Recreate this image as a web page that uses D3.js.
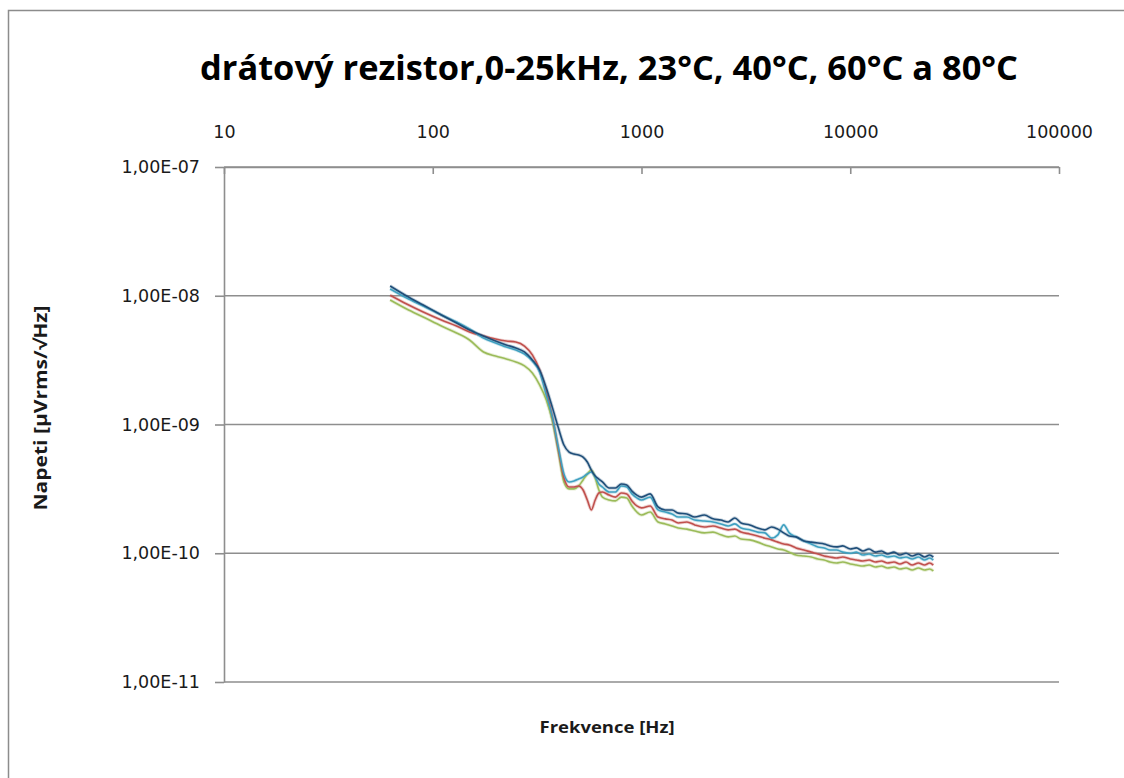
<!DOCTYPE html>
<html>
<head>
<meta charset="utf-8">
<script src="https://cdn.jsdelivr.net/npm/d3@7"></script>
<style>
  html, body { margin: 0; padding: 0; background: #fff; overflow: hidden; }
  svg { display: block; }
</style>
</head>
<body>
<svg id="chart" width="1124" height="778"></svg>
<script>
// Noise spectral density of a wire-wound resistor at four temperatures
const titleText = "drátový rezistor,0-25kHz, 23°C, 40°C, 60°C a 80°C";
const xTitle = "Frekvence [Hz]";
const yTitle = "Napeti [μVrms/√Hz]";

const xTicks = [10, 100, 1000, 10000, 100000];
const yTicks = [1e-7, 1e-8, 1e-9, 1e-10, 1e-11];

const freqHz = [62.5, 75, 90, 110, 130, 150, 175, 200, 225, 250,
  275, 300, 325, 350, 375, 400, 425, 450, 475, 500,
  525, 550, 575, 600, 625, 650, 700, 750, 800, 850,
  900, 950, 1000, 1100, 1200, 1300, 1400, 1500, 1650, 1800,
  2000, 2200, 2400, 2600, 2800, 3000, 3300, 3600, 3900, 4200,
  4500, 4800, 5100, 5500, 6000, 6500, 7000, 7500, 8000, 8600,
  9200, 10000, 10700, 11500, 12300, 13200, 14100, 15100, 16200, 17300,
  18500, 19800, 21200, 22700, 24000, 25000];

const seriesNames = ["23°C", "40°C", "60°C", "80°C"];

const noise23 = [9.27e-9, 7.89e-9, 6.84e-9, 5.82e-9, 5.14e-9, 4.53e-9, 3.66e-9, 3.40e-9, 3.23e-9, 3.06e-9,
  2.85e-9, 2.51e-9, 2.03e-9, 1.55e-9, 1.05e-9, 6.11e-10, 3.58e-10, 3.16e-10, 3.16e-10, 3.33e-10,
  3.71e-10, 4.13e-10, 4.43e-10, 3.84e-10, 3.10e-10, 2.73e-10, 2.59e-10, 2.55e-10, 2.73e-10, 2.69e-10,
  2.33e-10, 2.09e-10, 1.98e-10, 2.09e-10, 1.75e-10, 1.69e-10, 1.63e-10, 1.57e-10, 1.54e-10, 1.49e-10,
  1.44e-10, 1.46e-10, 1.39e-10, 1.34e-10, 1.36e-10, 1.29e-10, 1.27e-10, 1.22e-10, 1.16e-10, 1.12e-10,
  1.08e-10, 1.06e-10, 1.02e-10, 9.69e-11, 9.52e-11, 9.35e-11, 9.02e-11, 8.86e-11, 8.55e-11, 8.40e-11,
  8.55e-11, 8.25e-11, 8.10e-11, 7.96e-11, 8.10e-11, 7.82e-11, 7.96e-11, 7.68e-11, 7.82e-11, 7.54e-11,
  7.68e-11, 7.41e-11, 7.68e-11, 7.41e-11, 7.54e-11, 7.28e-11];

const noise40 = [1.01e-8, 8.63e-9, 7.48e-9, 6.48e-9, 5.82e-9, 5.23e-9, 4.87e-9, 4.61e-9, 4.45e-9, 4.37e-9,
  4.07e-9, 3.47e-9, 2.65e-9, 1.79e-9, 1.12e-9, 6.34e-10, 3.84e-10, 3.27e-10, 3.27e-10, 3.33e-10,
  3.10e-10, 2.59e-10, 2.17e-10, 2.59e-10, 2.94e-10, 2.99e-10, 2.83e-10, 2.73e-10, 2.94e-10, 2.89e-10,
  2.55e-10, 2.33e-10, 2.25e-10, 2.33e-10, 1.91e-10, 1.85e-10, 1.81e-10, 1.72e-10, 1.75e-10, 1.66e-10,
  1.60e-10, 1.63e-10, 1.57e-10, 1.52e-10, 1.54e-10, 1.46e-10, 1.41e-10, 1.36e-10, 1.31e-10, 1.27e-10,
  1.22e-10, 1.18e-10, 1.16e-10, 1.10e-10, 1.06e-10, 1.02e-10, 9.87e-11, 9.52e-11, 9.35e-11, 9.19e-11,
  9.35e-11, 9.02e-11, 8.86e-11, 8.71e-11, 8.86e-11, 8.55e-11, 8.71e-11, 8.40e-11, 8.55e-11, 8.25e-11,
  8.55e-11, 8.10e-11, 8.40e-11, 8.10e-11, 8.40e-11, 8.10e-11];

const noise60 = [1.13e-8, 9.60e-9, 8.33e-9, 7.09e-9, 6.25e-9, 5.52e-9, 4.70e-9, 4.30e-9, 4.00e-9, 3.79e-9,
  3.53e-9, 3.11e-9, 2.56e-9, 1.69e-9, 1.12e-9, 6.57e-10, 4.13e-10, 3.58e-10, 3.64e-10, 3.77e-10,
  3.91e-10, 4.13e-10, 4.28e-10, 3.91e-10, 3.45e-10, 3.27e-10, 2.99e-10, 2.99e-10, 3.33e-10, 3.27e-10,
  2.89e-10, 2.69e-10, 2.59e-10, 2.73e-10, 2.17e-10, 2.09e-10, 2.02e-10, 1.91e-10, 1.91e-10, 1.81e-10,
  1.78e-10, 1.75e-10, 1.69e-10, 1.63e-10, 1.69e-10, 1.57e-10, 1.52e-10, 1.46e-10, 1.44e-10, 1.31e-10,
  1.39e-10, 1.66e-10, 1.44e-10, 1.34e-10, 1.245e-10, 1.18e-10, 1.12e-10, 1.10e-10, 1.06e-10, 1.06e-10,
  1.02e-10, 1.00e-10, 1.02e-10, 9.69e-11, 9.87e-11, 9.52e-11, 9.69e-11, 9.35e-11, 9.52e-11, 9.19e-11,
  9.35e-11, 9.02e-11, 9.35e-11, 8.86e-11, 9.19e-11, 8.86e-11];

const noise80 = [1.19e-8, 9.95e-9, 8.48e-9, 7.09e-9, 6.14e-9, 5.42e-9, 4.87e-9, 4.45e-9, 4.15e-9, 3.93e-9,
  3.66e-9, 3.17e-9, 2.65e-9, 1.92e-9, 1.34e-9, 9.39e-10, 6.93e-10, 6.11e-10, 5.90e-10, 5.80e-10,
  5.59e-10, 5.11e-10, 4.43e-10, 3.98e-10, 3.77e-10, 3.58e-10, 3.21e-10, 3.21e-10, 3.45e-10, 3.39e-10,
  3.04e-10, 2.83e-10, 2.73e-10, 2.89e-10, 2.29e-10, 2.17e-10, 2.17e-10, 2.05e-10, 2.02e-10, 1.91e-10,
  1.98e-10, 1.85e-10, 1.81e-10, 1.75e-10, 1.88e-10, 1.72e-10, 1.66e-10, 1.57e-10, 1.52e-10, 1.60e-10,
  1.54e-10, 1.44e-10, 1.36e-10, 1.34e-10, 1.245e-10, 1.22e-10, 1.20e-10, 1.18e-10, 1.14e-10, 1.12e-10,
  1.14e-10, 1.08e-10, 1.10e-10, 1.04e-10, 1.08e-10, 1.02e-10, 1.04e-10, 9.87e-11, 1.02e-10, 9.69e-11,
  1.00e-10, 9.52e-11, 9.87e-11, 9.35e-11, 9.69e-11, 9.35e-11];

const seriesValues = [noise23, noise40, noise60, noise80];
const seriesColors = ["#9BBB59", "#C0504D", "#3FA0C0", "#1F4E79"];

const svg = d3.select("#chart");

// chart frame (left and top edges; the rest runs past the page)
svg.append("path")
  .attr("d", "M8.5,778V10.5H1124")
  .attr("fill", "none")
  .attr("stroke", "#8c8c8c").attr("stroke-width", 1.5);

const plot = { left: 224, right: 1059, top: 167, bottom: 682 };

const x = d3.scaleLog().domain([10, 100000]).range([plot.left, plot.right]);
const y = d3.scaleLog().domain([1e-11, 1e-7]).range([plot.bottom, plot.top]);

const axisColor = "#8e8e8e";
const labelFont = "'DejaVu Sans', Verdana, sans-serif";

// horizontal gridlines at every decade
svg.append("g")
  .selectAll("line")
  .data(yTicks)
  .join("line")
  .attr("x1", plot.left).attr("x2", plot.right)
  .attr("y1", d => y(d)).attr("y2", d => y(d))
  .attr("stroke", axisColor).attr("stroke-width", 1.6);

// frequency axis along the top, ticks pointing into the plot
const xAxis = d3.axisTop(x)
  .tickValues(xTicks)
  .tickFormat(d3.format("d"))
  .tickSizeInner(-7)
  .tickSizeOuter(0)
  .tickPadding(29);

const gx = svg.append("g")
  .attr("transform", `translate(0,${plot.top})`)
  .call(xAxis);
gx.select(".domain").attr("stroke", axisColor).attr("stroke-width", 1.6);
gx.selectAll(".tick line").attr("stroke", axisColor).attr("stroke-width", 1.6);
gx.selectAll(".tick text")
  .attr("fill", "#1a1a1a")
  .style("font-family", labelFont)
  .style("font-size", "17.5px");

// voltage axis on the left
const yAxis = d3.axisLeft(y)
  .tickValues(yTicks)
  .tickFormat(d => "1,00E-" + String(Math.round(-Math.log10(d))).padStart(2, "0"))
  .tickSizeInner(9)
  .tickSizeOuter(0)
  .tickPadding(15);

const gy = svg.append("g")
  .attr("transform", `translate(${plot.left},0)`)
  .call(yAxis);
gy.select(".domain").attr("stroke", axisColor).attr("stroke-width", 1.6);
gy.selectAll(".tick line").attr("stroke", axisColor).attr("stroke-width", 1.6);
gy.selectAll(".tick text")
  .attr("fill", "#1a1a1a")
  .style("font-family", labelFont)
  .style("font-size", "17.5px");

// spectra
const line = d3.line()
  .x(d => x(d[0]))
  .y(d => y(d[1]))
  .curve(d3.curveMonotoneX);

const series = seriesValues.map((vals, i) => ({
  name: seriesNames[i],
  color: seriesColors[i],
  points: freqHz.map((f, j) => [f, vals[j]])
}));

const traces = svg.append("g");

// soft antialiasing halo under each trace
traces.selectAll("path.halo")
  .data(series)
  .join("path")
  .attr("class", "halo")
  .attr("d", d => line(d.points))
  .attr("fill", "none")
  .attr("stroke", d => d.color)
  .attr("stroke-opacity", 0.25)
  .attr("stroke-width", 3.4)
  .attr("stroke-linejoin", "round");

traces.selectAll("path.trace")
  .data(series)
  .join("path")
  .attr("class", "trace")
  .attr("d", d => line(d.points))
  .attr("fill", "none")
  .attr("stroke", d => d.color)
  .attr("stroke-width", 1.6)
  .attr("stroke-linejoin", "round");

// titles
svg.append("text")
  .attr("x", 609).attr("y", 80)
  .attr("text-anchor", "middle")
  .attr("textLength", 818)
  .attr("lengthAdjust", "spacingAndGlyphs")
  .style("font-family", "'Liberation Sans Narrow', 'Open Sans', sans-serif")
  .style("font-weight", "bold")
  .style("font-size", "34px")
  .attr("fill", "#000")
  .text(titleText);

svg.append("text")
  .attr("x", 607).attr("y", 733)
  .attr("text-anchor", "middle")
  .attr("textLength", 135)
  .attr("lengthAdjust", "spacingAndGlyphs")
  .style("font-family", "'Open Sans', sans-serif")
  .style("font-weight", "bold")
  .style("font-size", "16px")
  .attr("fill", "#1a1a1a")
  .text(xTitle);

svg.append("text")
  .attr("transform", "translate(47,408) rotate(-90)")
  .attr("text-anchor", "middle")
  .attr("textLength", 205)
  .attr("lengthAdjust", "spacingAndGlyphs")
  .style("font-family", "'Open Sans', sans-serif")
  .style("font-weight", "bold")
  .style("font-size", "17px")
  .attr("fill", "#1a1a1a")
  .text(yTitle);
</script>
</body>
</html>
